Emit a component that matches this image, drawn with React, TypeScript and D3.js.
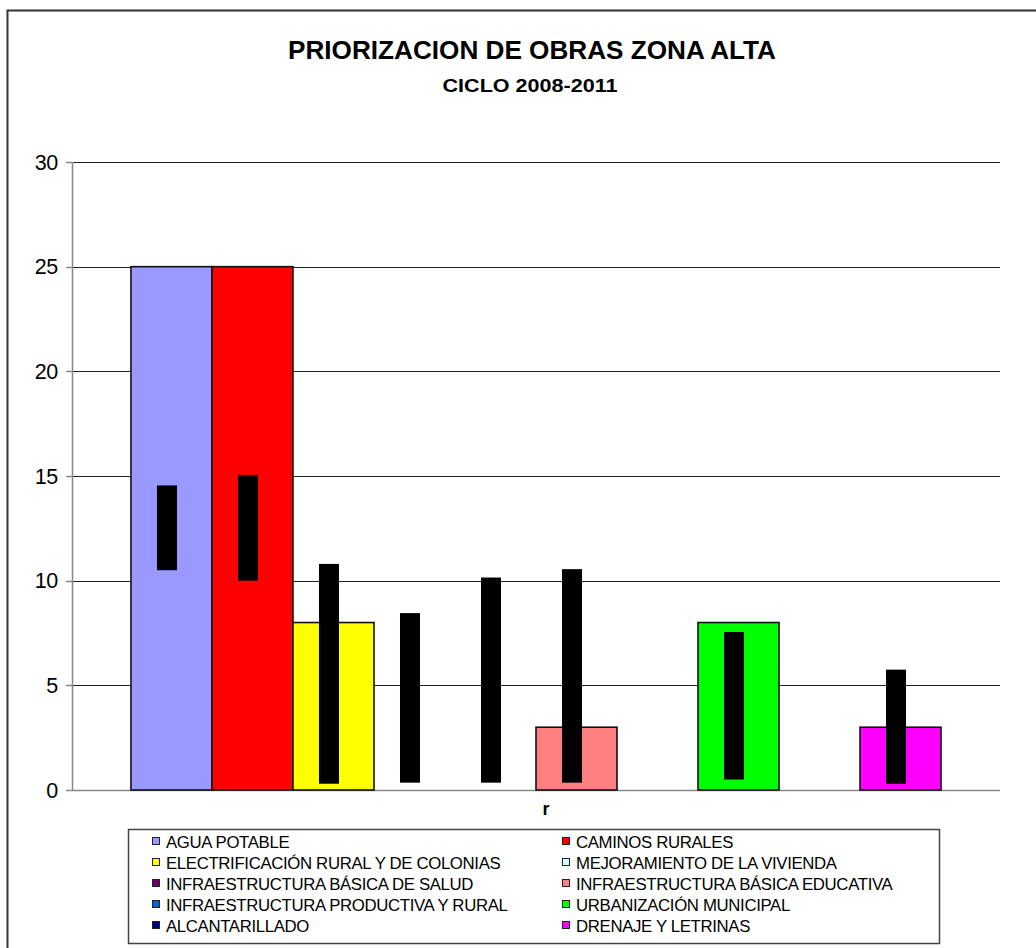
import React from "react";
import * as d3 from "d3";

const TITLE = "PRIORIZACION DE OBRAS ZONA ALTA";
const SUBTITLE = "CICLO 2008-2011";
const CATEGORY_LABEL = "r";

const seriesNames = [
  "AGUA POTABLE",
  "CAMINOS RURALES",
  "ELECTRIFICACIÓN RURAL Y DE COLONIAS",
  "MEJORAMIENTO DE LA VIVIENDA",
  "INFRAESTRUCTURA BÁSICA DE SALUD",
  "INFRAESTRUCTURA BÁSICA EDUCATIVA",
  "INFRAESTRUCTURA PRODUCTIVA Y RURAL",
  "URBANIZACIÓN MUNICIPAL",
  "ALCANTARILLADO",
  "DRENAJE Y LETRINAS",
];
const seriesValues = [25, 25, 8, 0, 0, 3, 0, 8, 0, 3];
const rangeLow: (number | null)[] = [10.5, 10, 0.3, 0.35, 0.35, 0.35, null, 0.5, null, 0.3];
const rangeHigh: (number | null)[] = [14.55, 15.05, 10.8, 8.45, 10.15, 10.55, null, 7.55, null, 5.75];
const seriesColors = [
  "#9999FF",
  "#FF0000",
  "#FFFF00",
  "#CCFFFF",
  "#660066",
  "#FF8080",
  "#0066CC",
  "#00FF00",
  "#000080",
  "#FF00FF",
];
const yTicks = [0, 5, 10, 15, 20, 25, 30];

const FONT = "'Liberation Sans', Arial, Helvetica, sans-serif";

export default function App() {
  const W = 1036;
  const H = 948;
  const plotLeft = 72;
  const plotRight = 1000;
  const plotTop = 162;
  const plotBottom = 790;

  const y = d3.scaleLinear().domain([0, 30]).range([plotBottom, plotTop]);
  const x = d3
    .scaleBand<string>()
    .domain(seriesNames)
    .range([plotLeft, plotRight])
    .paddingInner(0)
    .paddingOuter(0.728);
  const bw = x.bandwidth();
  const blackW = 20;

  const legendLeft = 128;
  const legendTop = 829;
  const legendW = 811;
  const legendH = 114;
  const colX = [152, 562];
  const rowY = [842, 863, 884, 905, 926];

  return (
    <svg
      width={W}
      height={H}
      style={{ position: "absolute", left: 0, top: 0, background: "#fff" }}
      fontFamily={FONT}
    >
      <rect x={0} y={0} width={W} height={H} fill="#fff" />
      {/* outer chart frame */}
      <rect x={7.5} y={10.5} width={1060} height={980} fill="none" stroke="#333" strokeWidth={2} />

      {/* titles */}
      <text
        x={532}
        y={59}
        textAnchor="middle"
        fontWeight="bold"
        fontSize={25}
        textLength={488}
        lengthAdjust="spacingAndGlyphs"
        fill="#000"
      >
        {TITLE}
      </text>
      <text
        x={530}
        y={92}
        textAnchor="middle"
        fontWeight="bold"
        fontSize={19}
        textLength={175}
        lengthAdjust="spacingAndGlyphs"
        fill="#000"
      >
        {SUBTITLE}
      </text>

      {/* gridlines */}
      {yTicks.filter((t) => t > 0).map((t) => (
        <line
          key={"g" + t}
          x1={plotLeft}
          x2={plotRight}
          y1={Math.round(y(t)) + 0.5}
          y2={Math.round(y(t)) + 0.5}
          stroke="#222"
          strokeWidth={1}
        />
      ))}

      {/* y axis */}
      <line x1={plotLeft + 0.5} x2={plotLeft + 0.5} y1={plotTop} y2={plotBottom} stroke="#888" strokeWidth={1.5} />
      {yTicks.map((t) => (
        <g key={"t" + t}>
          <line
            x1={plotLeft - 6}
            x2={plotLeft}
            y1={Math.round(y(t)) + 0.5}
            y2={Math.round(y(t)) + 0.5}
            stroke="#888"
            strokeWidth={1.5}
          />
          <text x={58} y={y(t) + 7.5} textAnchor="end" fontSize={21.5} fill="#000" letterSpacing={-0.3}>
            {t}
          </text>
        </g>
      ))}
      {/* x axis */}
      <line x1={plotLeft} x2={plotRight} y1={plotBottom + 0.5} y2={plotBottom + 0.5} stroke="#888" strokeWidth={1.5} />

      {/* bars */}
      {seriesNames.map((s, i) =>
        seriesValues[i] > 0 ? (
          <rect
            key={"b" + i}
            x={x(s)!}
            y={y(seriesValues[i])}
            width={bw}
            height={y(0) - y(seriesValues[i])}
            fill={seriesColors[i]}
            stroke="#111"
            strokeWidth={1.6}
          />
        ) : null
      )}

      {/* black range bars */}
      {seriesNames.map((s, i) => {
        const lo = rangeLow[i];
        const hi = rangeHigh[i];
        if (lo == null || hi == null) return null;
        const cx = x(s)! + bw / 2 - 4.5;
        return (
          <rect
            key={"r" + i}
            x={cx - blackW / 2}
            y={y(hi)}
            width={blackW}
            height={y(lo) - y(hi)}
            fill="#000"
          />
        );
      })}

      {/* category label */}
      <text x={546} y={815} textAnchor="middle" fontSize={18} fontWeight="bold" fill="#000">
        {CATEGORY_LABEL}
      </text>

      {/* legend */}
      <rect
        x={legendLeft + 0.5}
        y={legendTop + 0.5}
        width={legendW}
        height={legendH}
        fill="#fff"
        stroke="#444"
        strokeWidth={1.5}
      />
      {seriesNames.map((s, i) => {
        const col = i % 2;
        const row = Math.floor(i / 2);
        const lx = colX[col];
        const ly = rowY[row];
        return (
          <g key={"l" + i}>
            <rect x={lx + 0.5} y={ly - 4.5} width={7} height={7} fill={seriesColors[i]} stroke="#222" strokeWidth={1} />
            <text x={lx + 14} y={ly + 6} fontSize={16.8} fill="#000" letterSpacing={-0.35}>
              {s}
            </text>
          </g>
        );
      })}
    </svg>
  );
}
